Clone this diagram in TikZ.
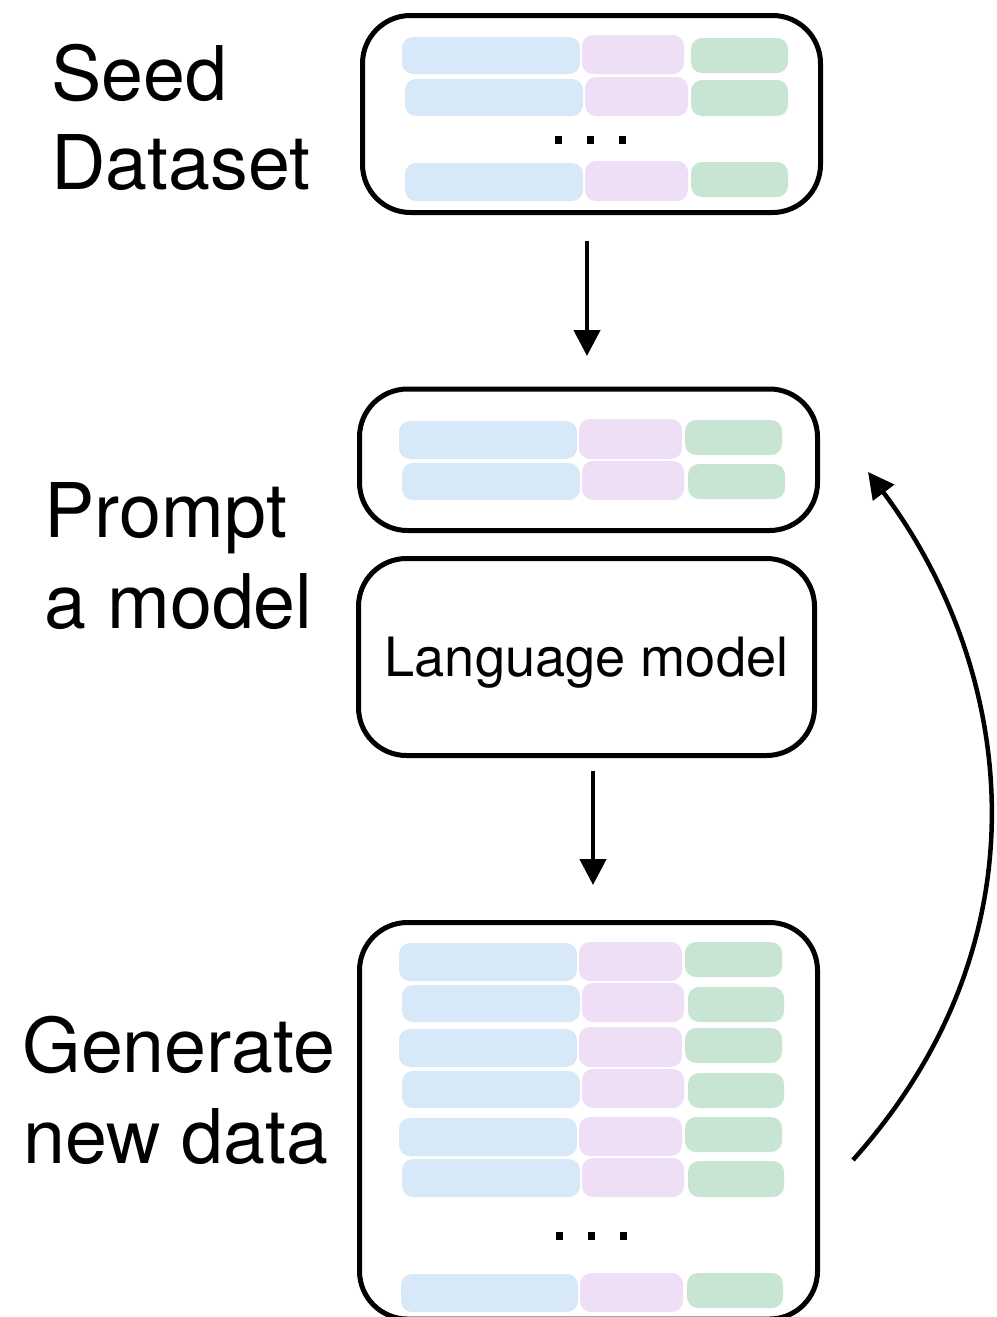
\documentclass[tikz,border=0pt]{standalone}
\usepackage{fontspec}
\setmainfont{TeX Gyre Heros}
\usetikzlibrary{arrows.meta}

\definecolor{cellblue}{HTML}{D7E9F9}
\definecolor{cellpurple}{HTML}{EEDFF6}
\definecolor{cellgreen}{HTML}{C8E4D3}

% one rounded cell of a data row: colour, x1, y1, x2, y2 (pixel grid)
\newcommand\databar[5]{\fill[#1, rounded corners=5.5pt] (#2,#3) rectangle (#4,#5);}
% one dot of an ellipsis
\newcommand\ellipsisdot[2]{\fill (#1-3.5,#2-4) rectangle (#1+3.5,#2+4);}

\tikzset{
  panel/.style={draw=black, line width=2.5pt, rounded corners=24pt,
                fill=white, outer sep=0pt, inner sep=0pt},
  lbl/.style={font=\fontsize{37.7}{45}\selectfont, inner sep=0pt, anchor=base west},
  arr/.style={line width=2.25pt, -{Triangle[length=13pt,width=13pt]}},
}

\begin{document}
\begin{tikzpicture}[x=0.5pt, y=-0.5pt]
\useasboundingbox (0,0) rectangle (996,1317);

% ---------- panels ----------
\node[panel, minimum width=229pt, minimum height=98.5pt] (seed) at (591.5,114) {};
\node[panel, minimum width=229pt, minimum height=70.75pt] (prompt) at (588.5,459.75) {};
\node[panel, minimum width=228pt, minimum height=98.5pt, text depth=0pt,
      font=\fontsize{27.1}{32}\selectfont] (lm) at (586.5,657) {Language model};
\node[panel, minimum width=229pt, minimum height=198.25pt] (gen) at (588.5,1120.75) {};

% ---------- seed dataset rows ----------
\databar{cellblue}{402}{37}{580}{74}   \databar{cellpurple}{582}{35}{684}{74}  \databar{cellgreen}{691}{38}{788}{73}
\databar{cellblue}{405}{79}{583}{116}  \databar{cellpurple}{585}{77}{688}{116} \databar{cellgreen}{691}{80}{788}{116}
\ellipsisdot{558}{140} \ellipsisdot{590}{140} \ellipsisdot{622}{140}
\databar{cellblue}{405}{163}{583}{201} \databar{cellpurple}{585}{161}{688}{201} \databar{cellgreen}{691}{162}{788}{197}

% ---------- prompt rows ----------
\databar{cellblue}{399}{421}{577}{459} \databar{cellpurple}{579}{419}{682}{459} \databar{cellgreen}{685}{420}{782}{455}
\databar{cellblue}{402}{463}{580}{500} \databar{cellpurple}{582}{461}{684}{500} \databar{cellgreen}{688}{464}{785}{499}

% ---------- generated rows ----------
\databar{cellblue}{399}{943}{577}{981}   \databar{cellpurple}{579}{942}{682}{981}   \databar{cellgreen}{685}{942}{782}{977}
\databar{cellblue}{402}{985}{580}{1022}  \databar{cellpurple}{582}{983}{684}{1022}  \databar{cellgreen}{688}{987}{784}{1022}
\databar{cellblue}{399}{1029}{577}{1067} \databar{cellpurple}{579}{1027}{682}{1067} \databar{cellgreen}{685}{1028}{782}{1063}
\databar{cellblue}{402}{1071}{580}{1108} \databar{cellpurple}{582}{1069}{684}{1108} \databar{cellgreen}{688}{1073}{784}{1108}
\databar{cellblue}{399}{1118}{577}{1156} \databar{cellpurple}{579}{1117}{682}{1156} \databar{cellgreen}{685}{1117}{782}{1152}
\databar{cellblue}{402}{1159}{580}{1197} \databar{cellpurple}{582}{1158}{684}{1197} \databar{cellgreen}{688}{1161}{784}{1197}
\ellipsisdot{559}{1236} \ellipsisdot{591}{1236} \ellipsisdot{623}{1236}
\databar{cellblue}{401}{1274}{578}{1312} \databar{cellpurple}{580}{1273}{683}{1312} \databar{cellgreen}{687}{1273}{783}{1308}

% ---------- step labels ----------
\node[lbl] (seedA) at (51,100) {Seed};
\node[lbl] (seedB) at (51,189) {Dataset};
\node[lbl] (promptA) at (44,537) {Prompt};
\node[lbl] (promptB) at (44,628) {a model};
\node[lbl] (genA) at (22,1072) {Generate};
\node[lbl] (genB) at (23,1163) {new data};

% ---------- connectors ----------
\draw[arr] ([xshift=-2.25pt,yshift=-14.25pt]seed.south) -- ([xshift=-0.75pt,yshift=16.5pt]prompt.north);
\draw[arr] ([xshift=3.25pt,yshift=-7.75pt]lm.south) -- ([xshift=2.25pt,yshift=18.75pt]gen.north);

\coordinate (loopstart) at ([xshift=17.75pt,yshift=-19.6pt]gen.east);
\coordinate (loopend) at ([xshift=25.25pt,yshift=-6.1pt]prompt.east);
\draw[arr] (loopstart) .. controls (1058,931) and (1008,658) .. (loopend);
\end{tikzpicture}
\end{document}
